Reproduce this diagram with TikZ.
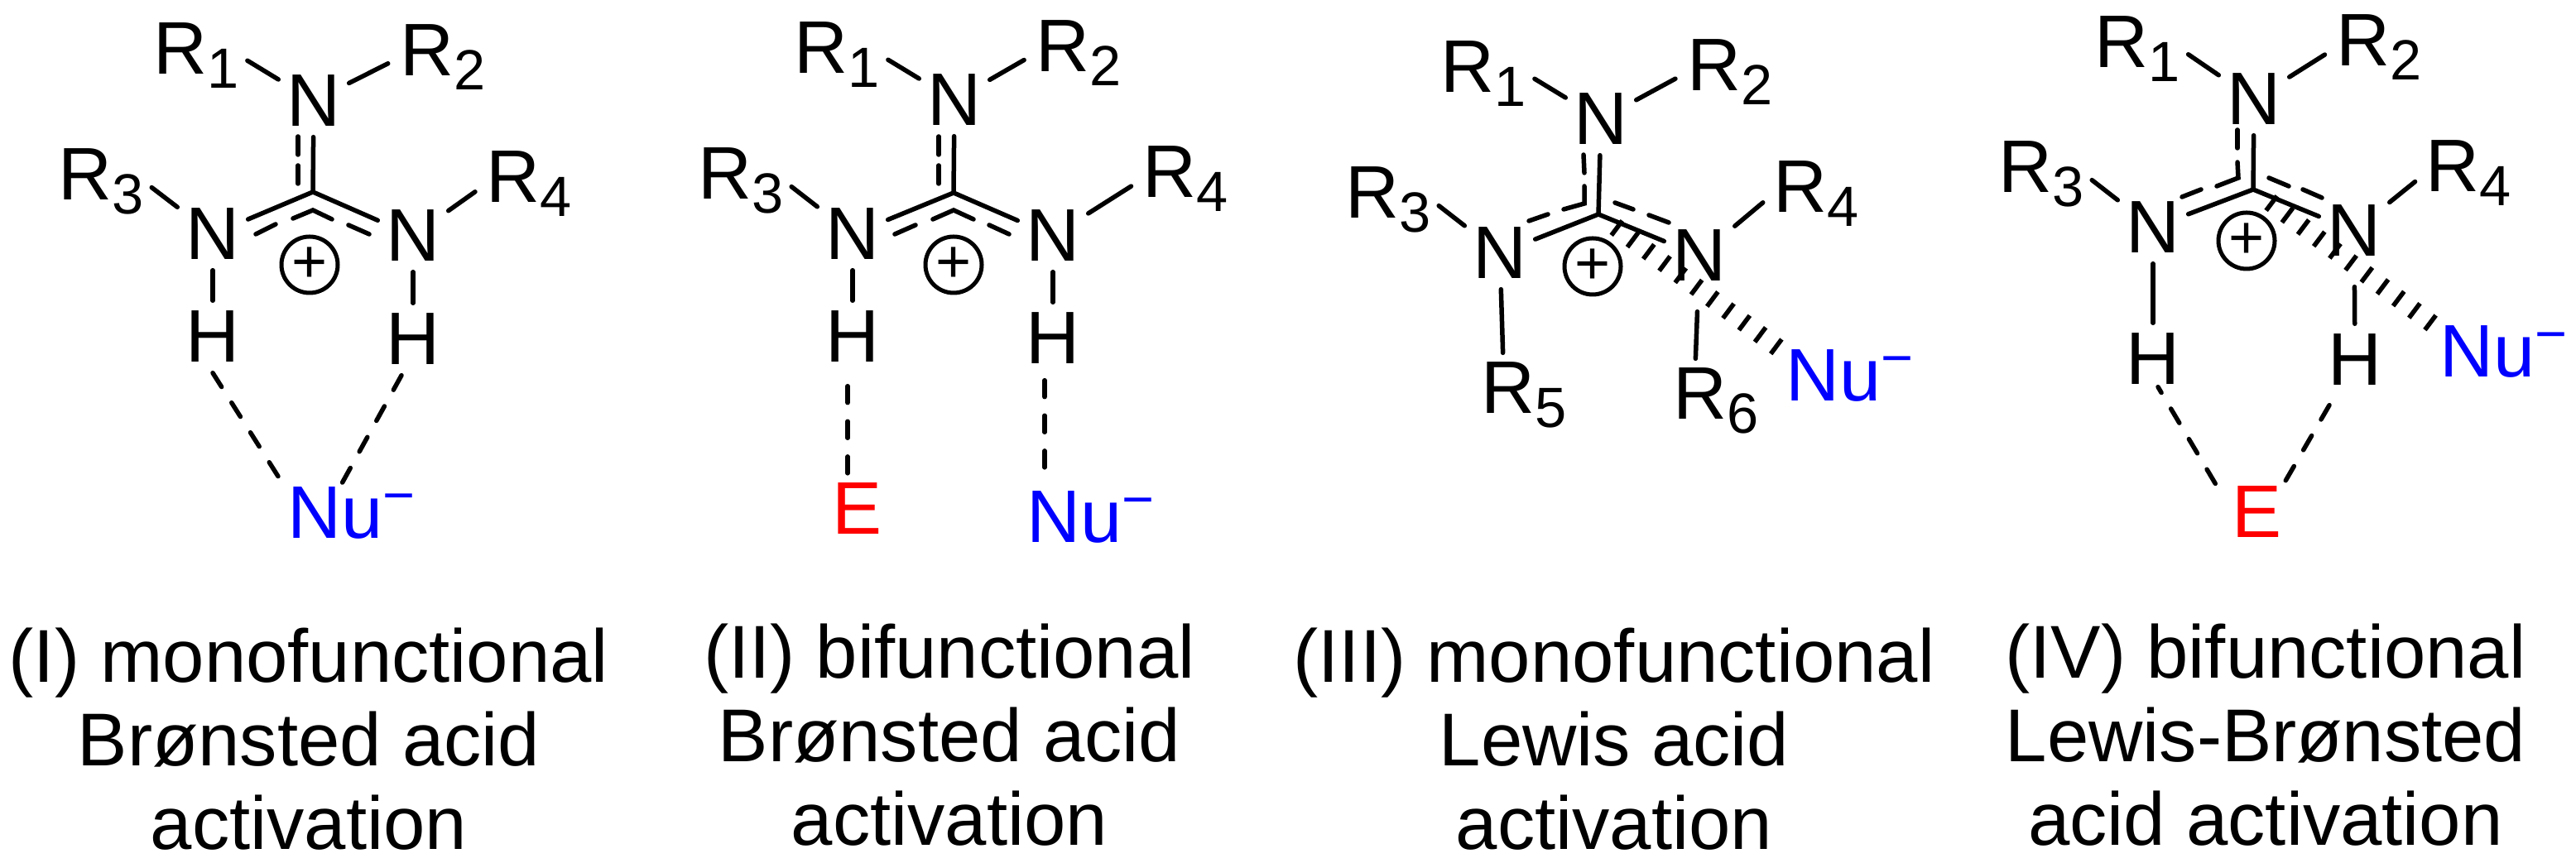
\documentclass[tikz,border=0pt]{standalone}
\usepackage{fontspec}
\setmainfont{Liberation Sans}
\newcommand{\rsub}[1]{\raisebox{-0.17cm}{\fontsize{19.5}{19.5}\selectfont #1}}
\newcommand{\numinus}{Nu\raisebox{0.29cm}{\fontsize{19}{19}\selectfont −}}
\tikzset{
    atom/.style={inner sep=0pt, minimum width=0.84cm, minimum height=0.86cm, font=\fontsize{25.6}{30}\selectfont},
    lab/.style={inner sep=0pt, anchor=base west, xshift=-0.07cm, font=\fontsize{25.6}{30}\selectfont},
    nucl/.style={lab, text=blue},
    elec/.style={lab, text=red},
    bond/.style={line width=0.055cm, line cap=round},
    lbond/.style={bond, shorten <=0.11cm},
    rbond/.style={bond, shorten <=0.16cm},
    hbond/.style={bond, dash pattern=on 0.2cm off 0.226cm},
    hash/.style={line width=0.22cm, dash pattern=on 0.055cm off 0.185cm, shorten <=0.25cm, shorten >=0.15cm},
    charge/.style={circle, draw, line width=0.05cm, inner sep=0pt, minimum size=0.68cm, font=\fontsize{21}{21}\selectfont},
    caption/.style={inner sep=0pt, align=center, font=\fontsize{25.75}{28.7}\selectfont},
}
\begin{document}
\begin{tikzpicture}
    \useasboundingbox (0,0) rectangle (31.12,10.43);

    %(I)
    \coordinate (Ca) at (3.78,8.11);
    \node[atom] (Nta) at (3.79,9.21) {N};
    \node[atom] (Nla) at (2.57,7.60) {N};
    \node[atom] (Nra) at (4.99,7.58) {N};
    \node[atom] (Hla) at (2.57,6.36) {H};
    \node[atom] (Hra) at (4.99,6.33) {H};
    \node[lab] (R1a) at (1.92,9.53) {R\rsub{1}};
    \node[lab] (R2a) at (4.90,9.51) {R\rsub{2}};
    \node[lab] (R3a) at (0.77,8.01) {R\rsub{3}};
    \node[lab] (R4a) at (5.94,7.98) {R\rsub{4}};
    \node[nucl] (Nua) at (3.54,3.92) {\numinus};
    \node[charge] (Pa) at (3.74,7.23) {+};
    \draw[bond] (Ca) -- (Nta);
    \draw[bond] (Ca) -- (Nla);
    \draw[bond] (Ca) -- (Nra);
    \draw[lbond] (R1a.east) -- (Nta);
    \draw[rbond] (R2a.west) -- (Nta);
    \draw[lbond] (R3a.east) -- (Nla);
    \draw[rbond] (R4a.west) -- (Nra);
    \draw[bond] (Nla) -- (Hla);
    \draw[bond] (Nra) -- (Hra);
    \draw[hbond] (Hla.south) -- ([xshift=-0.03cm]Nua.north west);
    \draw[hbond] ([xshift=-0.14cm]Hra.south) -- ([xshift=-0.14cm]Nua.north);
    \draw[bond] (3.60,8.78) -- (3.60,8.56);
    \draw[bond] (3.60,8.43) -- (3.60,8.21);
    \draw[bond] (3.09,7.60) -- (3.33,7.72);
    \draw[bond] (3.54,7.79) -- (3.78,7.89) -- (4.01,7.78);
    \draw[bond] (4.21,7.71) -- (4.46,7.60);
    \node[caption] (Ta) at (3.73,1.50) {(I) monofunctional\\Brønsted acid\\activation};

    %(II)
    \coordinate (Cb) at (11.52,8.10);
    \node[atom] (Ntb) at (11.53,9.22) {N};
    \node[atom] (Nlb) at (10.30,7.60) {N};
    \node[atom] (Nrb) at (12.72,7.58) {N};
    \node[atom] (Hlb) at (10.30,6.36) {H};
    \node[atom] (Hrb) at (12.72,6.34) {H};
    \node[lab] (R1b) at (9.66,9.54) {R\rsub{1}};
    \node[lab] (R2b) at (12.58,9.56) {R\rsub{2}};
    \node[lab] (R3b) at (8.50,8.02) {R\rsub{3}};
    \node[lab] (R4b) at (13.87,8.04) {R\rsub{4}};
    \node[elec] (Eb) at (10.12,3.97) {E};
    \node[nucl] (Nub) at (12.47,3.87) {\numinus};
    \node[charge] (Pb) at (11.52,7.23) {+};
    \draw[bond] (Cb) -- (Ntb);
    \draw[bond] (Cb) -- (Nlb);
    \draw[bond] (Cb) -- (Nrb);
    \draw[lbond] (R1b.east) -- (Ntb);
    \draw[rbond] (R2b.west) -- (Ntb);
    \draw[lbond] (R3b.east) -- (Nlb);
    \draw[rbond] (R4b.west) -- (Nrb);
    \draw[bond] (Nlb) -- (Hlb);
    \draw[bond] (Nrb) -- (Hrb);
    \draw[hbond] ([xshift=-0.06cm,yshift=-0.16cm]Hlb.south) -- ([xshift=-0.06cm]Hlb.south |- Eb.north);
    \draw[hbond, shorten >=0.12cm] ([xshift=-0.10cm,yshift=-0.07cm]Hrb.south) -- ([xshift=-0.10cm]Hrb.south |- Nub.north);
    \draw[bond] (11.34,8.78) -- (11.34,8.56);
    \draw[bond] (11.34,8.43) -- (11.34,8.21);
    \draw[bond] (10.81,7.60) -- (11.06,7.71);
    \draw[bond] (11.27,7.78) -- (11.52,7.89) -- (11.76,7.78);
    \draw[bond] (11.95,7.71) -- (12.19,7.60);
    \node[caption] (Tb) at (11.47,1.55) {(II) bifunctional\\Brønsted acid\\activation};

    %(III)
    \coordinate (Cc) at (19.31,7.84);
    \node[atom] (Ntc) at (19.34,8.99) {N};
    \node[atom] (Nlc) at (18.12,7.37) {N};
    \node[atom] (Nrc) at (20.53,7.34) {N};
    \node[lab] (R1c) at (17.47,9.31) {R\rsub{1}};
    \node[lab] (R2c) at (20.45,9.33) {R\rsub{2}};
    \node[lab] (R3c) at (16.32,7.79) {R\rsub{3}};
    \node[lab] (R4c) at (21.49,7.86) {R\rsub{4}};
    \node[lab] (R5c) at (17.96,5.43) {R\rsub{5}};
    \node[lab] (R6c) at (20.28,5.36) {R\rsub{6}};
    \node[nucl] (Nuc) at (21.64,5.58) {\numinus};
    \node[charge] (Pc) at (19.24,7.21) {+};
    \draw[bond] (Cc) -- (Ntc);
    \draw[bond] (Cc) -- (Nlc);
    \draw[bond] (Cc) -- (Nrc);
    \draw[lbond] (R1c.east) -- (Ntc);
    \draw[rbond] (R2c.west) -- (Ntc);
    \draw[lbond] (R3c.east) -- (Nlc);
    \draw[rbond] (R4c.west) -- (Nrc);
    \draw[bond, shorten >=0.11cm] (Nlc) -- (R5c.122);
    \draw[bond, shorten <=0.24cm, shorten >=0.11cm] (Nrc) -- (R6c.122);
    \draw[hash] (Cc) -- ([xshift=0.07cm,yshift=-0.1cm]Nuc.north west);
    \draw[bond] (19.13,8.56) -- (19.14,8.34);
    \draw[bond] (19.14,8.18) -- (19.14,7.97) -- (18.89,7.90);
    \draw[bond] (18.70,7.84) -- (18.47,7.76);
    \draw[bond] (19.51,7.98) -- (19.73,7.90);
    \draw[bond] (19.92,7.83) -- (20.16,7.74);
    \node[caption] (Tc) at (19.50,1.50) {(III) monofunctional\\Lewis acid\\activation};

    %(IV)
    \coordinate (Cd) at (27.22,8.14);
    \node[atom] (Ntd) at (27.23,9.23) {N};
    \node[atom] (Nld) at (26.01,7.68) {N};
    \node[atom] (Nrd) at (28.44,7.64) {N};
    \node[atom] (Hld) at (26.01,6.09) {H};
    \node[atom] (Hrd) at (28.45,6.08) {H};
    \node[lab] (R1d) at (25.37,9.61) {R\rsub{1}};
    \node[lab] (R2d) at (28.29,9.63) {R\rsub{2}};
    \node[lab] (R3d) at (24.21,8.10) {R\rsub{3}};
    \node[lab] (R4d) at (29.37,8.11) {R\rsub{4}};
    \node[elec] (Ed) at (27.03,3.93) {E};
    \node[nucl] (Nud) at (29.54,5.87) {\numinus};
    \node[charge] (Pd) at (27.14,7.52) {+};
    \draw[bond] (Cd) -- (Ntd);
    \draw[bond] (Cd) -- (Nld);
    \draw[bond] (Cd) -- (Nrd);
    \draw[lbond] (R1d.east) -- (Ntd);
    \draw[rbond] (R2d.west) -- (Ntd);
    \draw[lbond] (R3d.east) -- (Nld);
    \draw[rbond] (R4d.west) -- (Nrd);
    \draw[bond] (Nld) -- (Hld);
    \draw[bond, shorten <=0.24cm] (Nrd) -- (Hrd);
    \draw[hash] (Cd) -- ([xshift=0.07cm,yshift=-0.1cm]Nud.north west);
    \draw[hbond, dash phase=0.12cm] ([xshift=0.06cm,yshift=0.1cm]Hld.south) -- ([xshift=-0.18cm]Ed.north west);
    \draw[hbond] ([xshift=-0.31cm,yshift=-0.11cm]Hrd.south) -- (Ed.north east);
    \draw[bond] (27.03,8.86) -- (27.03,8.64);
    \draw[bond] (27.03,8.47) -- (27.04,8.28) -- (26.78,8.18);
    \draw[bond] (26.59,8.14) -- (26.36,8.05);
    \draw[bond] (27.41,8.28) -- (27.65,8.18);
    \draw[bond] (27.82,8.14) -- (28.05,8.04);
    \node[caption] (Td) at (27.37,1.55) {(IV) bifunctional\\Lewis-Brønsted\\acid activation};
\end{tikzpicture}
\end{document}
